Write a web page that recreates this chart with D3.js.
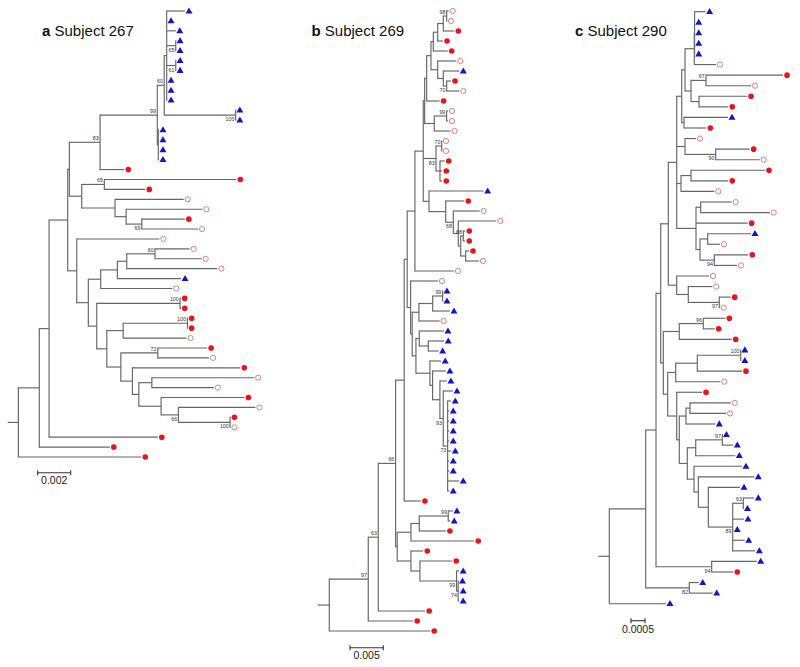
<!DOCTYPE html>
<html><head><meta charset="utf-8">
<script src="https://cdn.jsdelivr.net/npm/d3@7"></script>
<style>body{margin:0;background:#fff} svg{display:block}</style>
</head><body><svg id="chart" width="800" height="667"></svg>
<script>
// ---------------- DATA ----------------
// Tip codes: T = blue triangle, F = filled red circle, O = open red circle.
// Internal node names are bootstrap values. Branch lengths in units of 1e-4 substitutions/site.
const panelLetters = ["a", "b", "c"];
const panelTitles = ["Subject 267", "Subject 269", "Subject 290"];
const scaleBarValues = [0.002, 0.005, 0.0005];
const scaleBarLabels = ["0.002", "0.005", "0.0005"];
const lengthUnit = 1e-4;

// ---- Subject 267 ----
const a_top = "(T:11.1,T:0.2,T:5.5,(T:0.2,T:0.2)65:5.5,(T:0.2,T:0.2)61:5.5,T:0.2,T:0.2,T:0.2)";
const a_N99 = `((${a_top}:1.5,(T:0.1,T:0.1)100:43.3)60:4.2,(T:0.4,T:0.4,T:0.4,T:0.4):0.6)99`;
const a_N83 = `(${a_N99}:34.7,F:14.7)83`;
const a_C = "((F:80.0,F:24.8)65:13.7,(O:41.6,(O:46.2,(F:26.1,O:34.1)69:9.5):6.7):20.2)";
const a_H = "((((O:21.0,O:28.3)60:17.1,O:54.9):5.7,T:38.6):10.1,O:43.4)";
const a_N = "((F:0.1,F:0.1)100:39.0,O:38.4)";
const a_Q = "((O:62.0,O:37.6):7.9,(F:50.5,(O:46.7,(F:0.2,O:0.2)100:31.3)66:10.5):13.5)";
const a_O = `((F:29.9,O:31.1)72:22.4,(F:65.4,${a_Q}:3.9):7.0)`;
const a_I = `((F:0.4,F:0.4)100:50.5,(${a_N}:9.9,${a_O}:8.5):6.1)`;
const a_D = `(O:50.1,(${a_H}:7.5,${a_I}:5.1):7.0)`;
const newickA = `((((((${a_N83}:18.6,${a_C}:7.5):1.0,${a_D}:5.5):11.3,F:65.9):5.9,F:42.7):12.7,F:74.5):6.1;`;

// ---- Subject 269 ----
const b_TC1 = "(((((((O:3.0,O:0.5)98:5.1,F:16.5):8.4,F:8.0):6.6,F:21.6):3.5,(O:27.9,(T:24,(F:6.5,O:18.9)70:5.1):8.4):10.1):6.5,F:19.5)";
const b_Uq = `(${b_TC1}:3,((O:2.0,O:2.0)99:18.6,O:24.6):14.4)`;
const b_N83 = "((O:0.5,O:0.5)70:8.6,(F:7.1,F:3.5,F:3.5):6)83";
const b_Nk68 = "(T:82.1,(F:27.9,(O:39.6,(O:57,((F:3,F:3)88:3.9,(F:5,O:20):7.5):3.6):7.5)68:11.4):25.1)";
const b_Y3 = `((${b_Uq}:2.1,${b_N83}:19.1,${b_Nk68}:8.6):12.5,O:58.5)`;
const b_N93 = "(T:14.6,(T:5.4,T:2.4,T:2.4,T:2.4,T:2.4,T:5.4,T:2.4,T:2.4,T:17.4,T:2.4)73:6.6)93";
const b_Nf = `(T:17,(T:20,(T:10.5,${b_N93}:5):11):4)`;
const b_Ng = `((T:37.1,(T:24,T:15.6):13.5):5,${b_Nf}:21)`;
const b_Nj = "(((T:0.5,T:0.5)99:15,T:26):20.6,O:31.1)";
const b_Nk = `(O:41,(${b_Nj}:10.1,${b_Ng}:5.6):2.4)`;
const b_Y = `((${b_Y3}:11.6,${b_Nk}:5.1):4.5,F:25.1)`;
const b_W = "((((T:7,T:3)99:43.5,F:40):12.5,F:95):20.6,(F:18.5,(F:48.5,(T:3.9,(T:0.5,T:1.5,T:1.5)74:2.4)99:55):13.5):20.6)";
const newickB = `((((${b_Y}:12.9,${b_W}:2.4)66:26.1,F:70.5)63:15,F:67.5)97:58.5,F:151.5):16.5;`;

// ---- Subject 290 ----
const c_P2 = "(((T:3.93,T:0.05,T:0.05,T:0.05,T:0.05):0.1,O:7.75):3.32,((F:27.5,O:16.07)67:5.36,(F:17.14,F:10.46):2.86):2.14)";
const c_P6 = `(${c_P2}:1.18,(T:15.71,F:7.96):0.82)`;
const c_P7 = "(O:3.93,(F:12.14,O:15.71)90:10.96)";
const c_P11 = "((F:26.43,F:13.32):3.57,O:11.89)";
const c_P15 = "((O:11.07,O:24.64):1.68,F:18.46,((T:15.46,O:4.39):2.75,(F:12.14,O:8.11)94:5.11):1.43)";
const c_P8 = `(${c_P6}:1.79,${c_P7}:2.96,${c_P11}:1.54,${c_P15}:6.89)`;
const c_P20 = "(O:11.54,(O:8.57,(F:4.07,O:0.14)97:11.07):4.14)";
const c_P24 = "((F:7.86,F:4.07)96:8.57,F:18.71)";
const c_P28 = "(((T:0.05,T:0.05)100:15.5,F:15.96):7.71,O:15.93)";
const c_P33 = "((O:14.54,O:12.86):1.43,T:10.46)";
const c_P34 = "((T:0.05,T:3.93)97:9.5,T:14.14)";
const c_N89 = "((T:3.93,T:0.05)63:3.79,T:4.04,T:0.21,T:4.29,T:8.07)89";
const c_P36 = `(T:17.14,(T:20,(T:11.32,${c_N89}:8.71):3.57):1.54)`;
const c_P30 = `(F:9.04,(${c_P33}:2.39,(${c_P34}:3.0,${c_P36}:2.39):2.86):0.93)`;
const c_P25 = `(${c_P24}:5.71,(${c_P28}:2.86,${c_P30}:3.21):1.57)`;
const c_P23 = `((${c_P8}:3.0,${c_P20}:3.0):2.71,${c_P25}:0.93)`;
const newickC = `(((${c_P23}:1.68,(T:16.07,F:7.71)94:19.89):3.68,(T:3.36,T:8.36)82:15.57):13.0,T:20.25):3.93;`;

const newicks = [newickA, newickB, newickC];

// ---------------- LAYOUT (positions, not data) ----------------
const layouts = [
  {x0: 8.3,   barPx: 33,   yTop: 11,   yBottom: 457,   titleX: 42,  barX: 37.7, barY: 472.7, barLabelY: 484},
  {x0: 318.3, barPx: 33.3, yTop: 11,   yBottom: 631,   titleX: 311.5, barX: 350, barY: 647.7, barLabelY: 659},
  {x0: 598.3, barPx: 14,   yTop: 11.7, yBottom: 603.7, titleX: 575, barX: 631, barY: 620.7, barLabelY: 633}
];

const COL_LINE = "#666", COL_BLUE = "#1414c8", COL_RED = "#e8131b", COL_OPEN = "#e07070";
const FONT = "'Liberation Sans', Arial, Helvetica, sans-serif";

function parseNewick(str) {
  const s = str.replace(/\s+/g, "");
  let i = 0;
  function node() {
    const n = {name: "", length: 0, children: null};
    if (s[i] === "(") {
      i++;
      n.children = [node()];
      while (s[i] === ",") { i++; n.children.push(node()); }
      i++;
    }
    let name = "";
    while (i < s.length && ",():;".indexOf(s[i]) < 0) name += s[i++];
    n.name = name;
    if (s[i] === ":") {
      i++;
      let num = "";
      while (i < s.length && ",();".indexOf(s[i]) < 0) num += s[i++];
      n.length = +num;
    }
    return n;
  }
  return node();
}

const svg = d3.select("#chart");

newicks.forEach((nw, p) => {
  const L = layouts[p];
  const root = d3.hierarchy(parseNewick(nw), d => d.children);
  root.eachBefore(d => { d.dist = (d.parent ? d.parent.dist : 0) + d.data.length * lengthUnit; });
  const leaves = root.leaves();
  const y = d3.scaleLinear().domain([0, leaves.length - 1]).range([L.yTop, L.yBottom]);
  leaves.forEach((l, i) => l.yy = y(i));
  root.eachAfter(d => { if (d.children) d.yy = (d.children[0].yy + d.children[d.children.length - 1].yy) / 2; });
  const x = d3.scaleLinear().domain([0, scaleBarValues[p]]).range([L.x0, L.x0 + L.barPx]);

  const g = svg.append("g");
  const nodes = root.descendants();

  g.selectAll("line.h").data(nodes).join("line")
    .attr("x1", d => x(d.parent ? d.parent.dist : 0))
    .attr("x2", d => x(d.dist))
    .attr("y1", d => d.yy).attr("y2", d => d.yy)
    .attr("stroke", COL_LINE).attr("stroke-width", 1.15);
  g.selectAll("line.v").data(nodes.filter(d => d.children)).join("line")
    .attr("x1", d => x(d.dist)).attr("x2", d => x(d.dist))
    .attr("y1", d => d.children[0].yy - 0.55)
    .attr("y2", d => d.children[d.children.length - 1].yy + 0.55)
    .attr("stroke", COL_LINE).attr("stroke-width", 1.15);

  const tri = d3.symbol().type(d3.symbolTriangle).size(21);
  leaves.forEach(l => {
    const mx = x(l.dist) + 4, my = l.yy;
    if (l.data.name === "T") {
      g.append("path").attr("d", tri).attr("transform", `translate(${mx},${my + 0.4})`).attr("fill", COL_BLUE);
    } else if (l.data.name === "F") {
      g.append("circle").attr("cx", mx).attr("cy", my).attr("r", 2.8).attr("fill", COL_RED);
    } else {
      g.append("circle").attr("cx", mx).attr("cy", my).attr("r", 2.6)
        .attr("fill", "#fff").attr("stroke", COL_OPEN).attr("stroke-width", 0.9);
    }
  });

  const inner = nodes.filter(d => d.children && d.data.name);
  g.selectAll("text.bs").data(inner).join("text")
    .attr("x", d => x(d.dist) - 1.3)
    .attr("y", d => {
      const first = d.parent && d.parent.children[0] === d;
      return d.yy + (first ? -4 : 4);
    })
    .attr("text-anchor", "end").attr("dominant-baseline", "central")
    .attr("font-family", FONT).attr("font-size", 5.3).attr("fill", "#333")
    .text(d => d.data.name);

  const t = svg.append("text").attr("x", L.titleX).attr("y", 35.7)
    .attr("font-family", FONT).attr("font-size", 15).attr("fill", "#111");
  t.append("tspan").attr("font-weight", "bold").text(panelLetters[p]);
  t.append("tspan").text(" " + panelTitles[p]);

  const bx1 = L.barX, bx2 = L.barX + (x(scaleBarValues[p]) - x(0));
  const sb = svg.append("g").attr("stroke", "#333").attr("stroke-width", 1.1);
  sb.append("line").attr("x1", bx1).attr("x2", bx2).attr("y1", L.barY).attr("y2", L.barY);
  sb.append("line").attr("x1", bx1).attr("x2", bx1).attr("y1", L.barY - 2.5).attr("y2", L.barY + 2.5);
  sb.append("line").attr("x1", bx2).attr("x2", bx2).attr("y1", L.barY - 2.5).attr("y2", L.barY + 2.5);
  svg.append("text").attr("x", (bx1 + bx2) / 2).attr("y", L.barLabelY)
    .attr("text-anchor", "middle").attr("font-family", FONT).attr("font-size", 10.5).attr("fill", "#222")
    .text(scaleBarLabels[p]);
});
</script></body></html>
